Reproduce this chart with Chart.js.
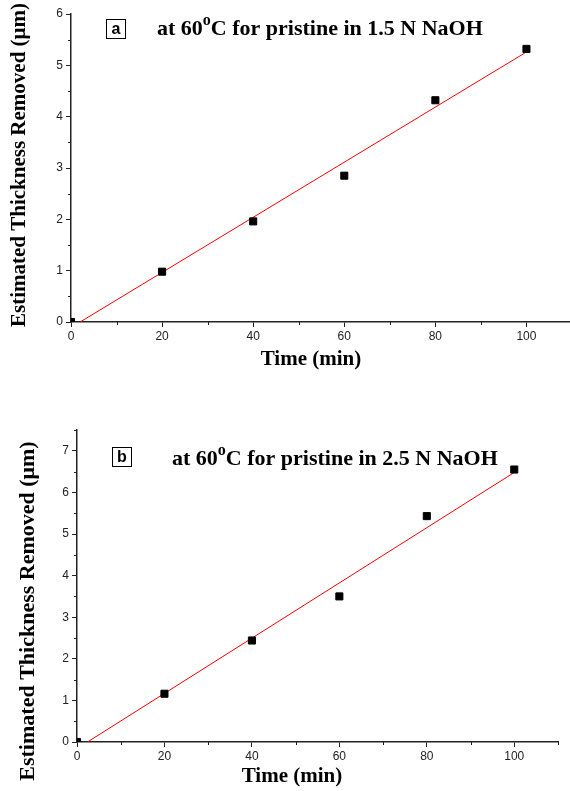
<!DOCTYPE html>
<html lang="en">
<head>
<meta charset="UTF-8">
<title>Estimated Thickness Removed</title>
<script src="https://cdn.jsdelivr.net/npm/chart.js"></script>
<style>
  html, body { margin: 0; padding: 0; background: #fff; overflow: hidden; }
  canvas { position: absolute; left: 0; }
  #chartA { top: 0; }
  #chartB { top: 390px; }
</style>
</head>
<body>
<canvas id="chartA" width="580" height="380"></canvas>
<canvas id="chartB" width="570" height="401"></canvas>

<script>
  const timeMin = [0, 20, 40, 60, 80, 100];
  const thicknessA = [0, 0.98, 1.96, 2.85, 4.32, 5.32];
  const thicknessB = [0, 1.16, 2.44, 3.5, 5.43, 6.55];
  // end points of the red linear fits
  const fitTimeA = [2.0, 100];
  const fitThicknessA = [0, 5.26];
  const fitTimeB = [2.4, 100];
  const fitThicknessB = [0, 6.48];

  const titleA = ['at 60', 'o', 'C for pristine in 1.5 N NaOH'];
  const titleB = ['at 60', 'o', 'C for pristine in 2.5 N NaOH'];
  const xLabel = 'Time (min)';
  const yLabel = 'Estimated Thickness Removed (\u03bcm)';

  const axisColor = '#222';
  const serif = '"Liberation Serif", "Times New Roman", serif';
  const sans = '"Liberation Sans", Arial, sans-serif';

  function pts(xs, ys) {
    return xs.map((x, i) => ({ x: x, y: ys[i] }));
  }

  const decorations = {
    id: 'decorations',
    afterDraw(chart, args, o) {
      const ctx = chart.ctx;
      const xs = chart.scales.x, ys = chart.scales.y;
      const area = chart.chartArea;
      ctx.save();

      // minor ticks
      ctx.strokeStyle = axisColor;
      ctx.lineWidth = 1;
      ctx.beginPath();
      for (let v = 10; v <= xs.max + 0.01; v += 20) {
        const px = Math.round(xs.getPixelForValue(v)) + 0.5;
        ctx.moveTo(px, area.bottom);
        ctx.lineTo(px, area.bottom + 3);
      }
      for (let v = 0.5; v <= ys.max + 0.01; v += 1) {
        const py = Math.round(ys.getPixelForValue(v)) + 0.5;
        ctx.moveTo(area.left, py);
        ctx.lineTo(area.left - 3, py);
      }
      ctx.stroke();

      // axis titles
      ctx.fillStyle = '#000';
      ctx.font = 'bold 21px ' + serif;
      ctx.textAlign = 'center';
      ctx.textBaseline = 'alphabetic';
      ctx.fillText(xLabel, o.xTitleX, o.xTitleY);
      ctx.save();
      ctx.font = 'bold ' + o.yTitleSize + 'px ' + serif;
      ctx.translate(o.yTitleX, o.yTitleY);
      ctx.rotate(-Math.PI / 2);
      ctx.fillText(yLabel, 0, 0);
      ctx.restore();

      // panel letter
      ctx.lineWidth = 1;
      ctx.strokeStyle = '#000';
      ctx.strokeRect(o.boxX + 0.5, o.boxY + 0.5, 19, 19);
      ctx.font = 'bold 16px ' + sans;
      ctx.textBaseline = 'middle';
      ctx.fillText(o.letter, o.boxX + 10, o.boxY + 11);

      // title with superscript degree
      ctx.textAlign = 'left';
      ctx.textBaseline = 'alphabetic';
      let x = o.titleX;
      ctx.font = 'bold 22px ' + serif;
      ctx.fillText(o.title[0], x, o.titleY);
      x += ctx.measureText(o.title[0]).width;
      ctx.font = 'bold 16px ' + serif;
      ctx.fillText(o.title[1], x, o.titleY - 10);
      x += ctx.measureText(o.title[1]).width;
      ctx.font = 'bold 22px ' + serif;
      ctx.fillText(o.title[2], x, o.titleY);

      ctx.restore();
    }
  };

  function makeChart(id, cfg) {
    const canvas = document.getElementById(id);
    return new Chart(canvas, {
      type: 'scatter',
      data: {
        datasets: [
          {
            label: 'measured',
            data: pts(timeMin, cfg.values),
            pointStyle: 'rect',
            pointRadius: 5,
            pointHoverRadius: 5,
            pointBackgroundColor: '#000',
            pointBorderColor: '#000',
            pointBorderWidth: 1,
            showLine: false
          },
          {
            label: 'fit',
            data: pts(cfg.fitX, cfg.fitY),
            showLine: true,
            borderColor: '#ff0000',
            borderWidth: 1,
            pointRadius: 0,
            fill: false
          }
        ]
      },
      options: {
        responsive: false,
        animation: false,
        devicePixelRatio: 1,
        layout: { padding: { top: cfg.top, right: canvas.width - cfg.right, left: 0, bottom: 0 } },
        plugins: {
          legend: { display: false },
          tooltip: { enabled: false },
          decorations: cfg.deco
        },
        scales: {
          x: {
            type: 'linear',
            min: 0,
            max: 110,
            afterFit: s => { s.height = canvas.height - cfg.bottom; },
            border: { display: true, color: axisColor, width: 1.5 },
            grid: { drawOnChartArea: false, drawTicks: true, tickLength: 5, tickColor: axisColor },
            ticks: {
              stepSize: 20,
              includeBounds: false,
              padding: 2,
              color: '#222',
              font: { family: sans, size: 12 }
            }
          },
          y: {
            type: 'linear',
            min: 0,
            max: cfg.yMax,
            afterFit: s => { s.width = cfg.left; },
            border: { display: true, color: axisColor, width: 1.5 },
            grid: { drawOnChartArea: false, drawTicks: true, tickLength: 5, tickColor: axisColor },
            ticks: {
              stepSize: 1,
              includeBounds: false,
              padding: 3,
              color: '#222',
              font: { family: sans, size: 12 }
            }
          }
        }
      },
      plugins: [decorations]
    });
  }

  makeChart('chartA', {
    values: thicknessA, fitX: fitTimeA, fitY: fitThicknessA,
    yMax: 6, top: 14, bottom: 322, left: 71, right: 572,
    deco: {
      xTitleX: 311, xTitleY: 365, yTitleX: 25, yTitleY: 165, yTitleSize: 21,
      boxX: 106, boxY: 19, letter: 'a', title: titleA, titleX: 157, titleY: 35
    }
  });

  makeChart('chartB', {
    values: thicknessB, fitX: fitTimeB, fitY: fitThicknessB,
    yMax: 7.5, top: 40, bottom: 352, left: 77, right: 558,
    deco: {
      xTitleX: 292, xTitleY: 392, yTitleX: 34, yTitleY: 221, yTitleSize: 22,
      boxX: 112, boxY: 57, letter: 'b', title: titleB, titleX: 172, titleY: 75
    }
  });
</script>
</body>
</html>
